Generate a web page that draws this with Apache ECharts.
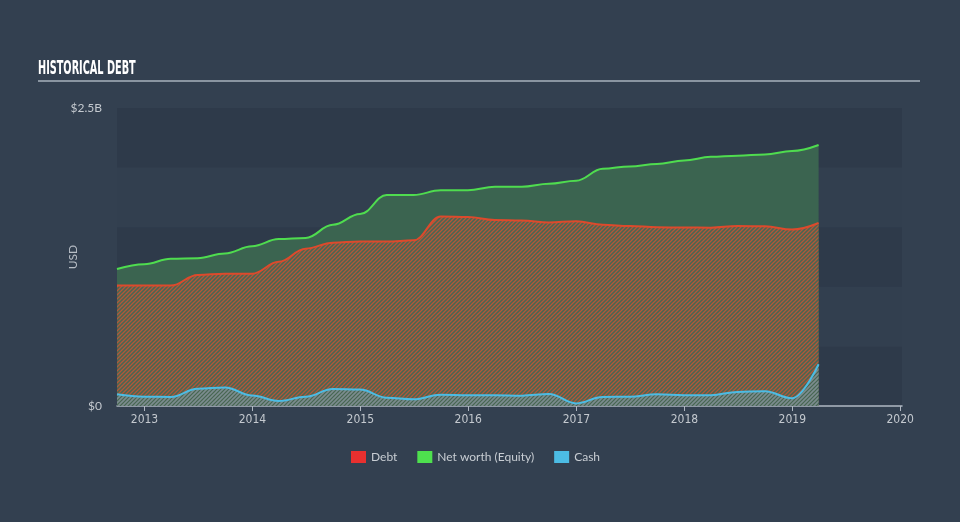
<!DOCTYPE html>
<html>
<head>
<meta charset="utf-8">
<script src="https://cdn.jsdelivr.net/npm/echarts@6/dist/echarts.min.js"></script>
<style>
html,body{margin:0;padding:0;background:#334050;}
#c{width:960px;height:522px;}
</style>
</head>
<body>
<div id="c"></div>
<script>
// Quarter-end dates
const dates = ['2012-09-30','2012-12-31','2013-03-31','2013-06-30','2013-09-30','2013-12-31',
  '2014-03-31','2014-06-30','2014-09-30','2014-12-31','2015-03-31','2015-06-30','2015-09-30',
  '2015-12-31','2016-03-31','2016-06-30','2016-09-30','2016-12-31','2017-03-31','2017-06-30',
  '2017-09-30','2017-12-31','2018-03-31','2018-06-30','2018-09-30','2018-12-31','2019-03-31'];
// Values in USD billions
const debt = [1.01,1.01,1.01,1.10,1.11,1.11,1.21,1.32,1.37,1.38,1.38,1.39,1.59,1.585,1.56,1.557,
  1.54,1.55,1.52,1.51,1.50,1.497,1.496,1.51,1.507,1.48,1.535];
const netWorth = [1.15,1.19,1.235,1.24,1.28,1.34,1.40,1.41,1.52,1.61,1.77,1.77,1.81,1.81,1.84,1.84,
  1.865,1.89,1.99,2.01,2.03,2.06,2.09,2.10,2.11,2.14,2.19];
const cash = [0.098,0.078,0.076,0.145,0.155,0.088,0.042,0.078,0.143,0.138,0.07,0.056,0.095,0.09,
  0.09,0.087,0.10,0.022,0.076,0.078,0.098,0.09,0.09,0.118,0.124,0.065,0.35];
const yearTicks = ['2013-01-01','2014-01-01','2015-01-01','2016-01-01','2017-01-01','2018-01-01','2019-01-01','2020-01-01'];
const legendNames = ['Debt','Net worth (Equity)','Cash'];

const ts = s => Date.parse(s + 'T00:00:00Z');
const tickVals = yearTicks.map(ts);

function hatch(bg, stripe, lw, size) {
  const c = document.createElement('canvas');
  c.width = size; c.height = size;
  const g = c.getContext('2d');
  if (bg) { g.fillStyle = bg; g.fillRect(0, 0, size, size); }
  g.strokeStyle = stripe; g.lineWidth = lw;
  g.beginPath();
  g.moveTo(0, size); g.lineTo(size, 0);
  g.moveTo(-size, size); g.lineTo(size, -size);
  g.moveTo(0, 2 * size); g.lineTo(2 * size, 0);
  g.stroke();
  return c;
}
const debtPat = { image: hatch('#486652', '#b0583a', 1.3, 4), repeat: 'repeat' };
const cashPat = { image: hatch(null, 'rgba(90,175,200,0.6)', 1.6, 4), repeat: 'repeat' };

const toPairs = arr => arr.map((v, i) => [ts(dates[i]), v]);
const chart = echarts.init(document.getElementById('c'));
const axisFont = "'Liberation Sans Narrow','DejaVu Sans Condensed',sans-serif";
chart.setOption({
  backgroundColor: '#334050',
  animation: false,
  grid: { left: 117, right: 58, top: 108, bottom: 116, containLabel: false },
  graphic: [
    { type: 'text', left: 38, top: 59, scaleX: 0.54,
      style: { text: 'HISTORICAL DEBT', fill: '#ffffff', font: "bold 20px 'Liberation Sans Narrow','DejaVu Sans Condensed',sans-serif" } },
    { type: 'line', shape: { x1: 38, y1: 81, x2: 920, y2: 81 }, style: { stroke: '#a9b2bc', lineWidth: 1.5 } }
  ],
  legend: {
    bottom: 54, left: 346, icon: 'rect', itemWidth: 15, itemHeight: 12, itemGap: 20,
    textStyle: { color: '#c8cdd3', fontSize: 12, fontFamily: 'Lato' },
    data: [
      { name: legendNames[0], itemStyle: { color: '#e8302f' } },
      { name: legendNames[1], itemStyle: { color: '#4ee04e' } },
      { name: legendNames[2], itemStyle: { color: '#4cbce4' } }
    ]
  },
  xAxis: {
    type: 'value', min: ts('2012-09-30'), max: ts('2020-01-07'),
    axisLine: { lineStyle: { color: '#b0b8c2', width: 1.5 } },
    axisTick: { show: true, length: 5, customValues: tickVals, lineStyle: { color: '#b0b8c2' } },
    axisLabel: { customValues: tickVals, color: '#c4c9cf', fontSize: 12, fontFamily: axisFont, margin: 8,
      formatter: v => String(new Date(v).getUTCFullYear()) },
    splitLine: { show: false }
  },
  yAxis: {
    type: 'value', min: 0, max: 2.5, interval: 0.5,
    name: 'USD', nameLocation: 'middle', nameGap: 38, nameMoveOverlap: false,
    nameTextStyle: { color: '#b8bec6', fontSize: 12, fontFamily: 'Lato' },
    axisLine: { show: false }, axisTick: { show: false },
    axisLabel: { color: '#c4c9cf', fontSize: 12, fontFamily: 'Lato', margin: 15,
      formatter: v => v === 0 ? '$0' : (v === 2.5 ? '$2.5B' : '') },
    splitLine: { show: false },
    splitArea: { show: true, areaStyle: { color: ['#2e3a4a', '#323f4f'] } }
  },
  series: [
    { name: legendNames[1], type: 'line', data: toPairs(netWorth), showSymbol: false, symbol: 'none',
      smooth: 0.4, smoothMonotone: 'x', color: '#4ee04e',
      lineStyle: { color: '#4fdc4f', width: 2 }, areaStyle: { color: '#3b6450', opacity: 1 }, z: 2 },
    { name: legendNames[0], type: 'line', data: toPairs(debt), showSymbol: false, symbol: 'none',
      smooth: 0.4, smoothMonotone: 'x', color: '#e8302f',
      lineStyle: { color: '#dd4a2c', width: 2 }, areaStyle: { color: debtPat, opacity: 1 }, z: 3 },
    { name: legendNames[2], type: 'line', data: toPairs(cash), showSymbol: false, symbol: 'none',
      smooth: 0.4, smoothMonotone: 'x', color: '#4cbce4',
      lineStyle: { color: '#4cbce4', width: 2 }, areaStyle: { color: cashPat, opacity: 1 }, z: 4 }
  ]
});
</script>
</body>
</html>
